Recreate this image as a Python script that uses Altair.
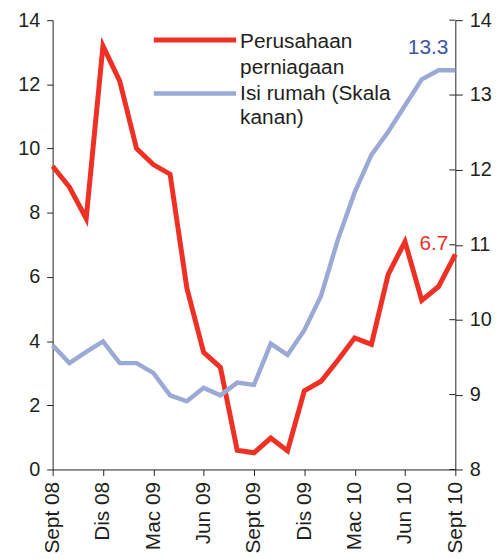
import altair as alt
import pandas as pd

# ---- data ----
tick_labels = ["Sept 08", "Dis 08", "Mac 09", "Jun 09", "Sept 09",
               "Dis 09", "Mac 10", "Jun 10", "Sept 10"]
month_index = list(range(25))  # Sept 08 .. Sept 10 (monthly)
business = [9.45, 8.8, 7.82, 13.2, 12.1, 10.0, 9.5, 9.2, 5.65, 3.65, 3.18, 0.6, 0.52,
            0.98, 0.58, 2.45, 2.75, 3.4, 4.1, 3.9, 6.08, 7.1, 5.27, 5.7, 6.7]
household = [9.66, 9.42, 9.57, 9.71, 9.42, 9.42, 9.29, 8.99, 8.91, 9.09, 8.99, 9.16, 9.13,
             9.68, 9.53, 9.86, 10.32, 11.07, 11.7, 12.2, 12.51, 12.86, 13.21, 13.33, 13.33]
left_ticks = [0, 2, 4, 6, 8, 10, 12, 14]
right_ticks = [8, 9, 10, 11, 12, 13, 14]
legend_business = "Perusahaan\nperniagaan"
legend_household = "Isi rumah (Skala\nkanan)"

RED = "#EE3124"
BLUE = "#9AA9D6"
BLUE_TXT = "#3A56A8"
INK = "#231F20"
FONT = "Liberation Sans"
FS = 21
FS_Y = 20

W, H = 406, 453

df = pd.DataFrame({"m": month_index, "biz": business, "hh": household})
last = df[df["m"] == month_index[-1]]

label_array = "[" + ",".join("'" + t + "'" for t in tick_labels) + "]"
x_enc = alt.X(
    "m:Q",
    scale=alt.Scale(domain=[month_index[0], month_index[-1]], nice=False, zero=False),
    axis=alt.Axis(values=month_index[::3], labelExpr=label_array + "[round(datum.value/3)]",
                  labelAngle=270, title=None, grid=False, tickSize=6, labelPadding=6,
                  labelFontSize=FS),
)

left_axis = alt.Axis(orient="left", values=left_ticks, title=None, grid=False,
                     tickSize=6, labelPadding=7)
right_axis = alt.Axis(orient="right", values=right_ticks, title=None, grid=False,
                      tickSize=7, labelPadding=7)

red_line = alt.Chart(df).mark_line(color=RED, strokeWidth=5, strokeJoin="miter").encode(
    x=x_enc,
    y=alt.Y("biz:Q", scale=alt.Scale(domain=[0, 14], nice=False), axis=left_axis),
)
red_label = alt.Chart(last).mark_text(color=RED, font=FONT, fontSize=FS, align="right",
                                      baseline="middle", dx=-7, dy=-10).encode(
    x=x_enc,
    y=alt.Y("biz:Q", scale=alt.Scale(domain=[0, 14], nice=False), axis=left_axis),
    text=alt.Text("biz:Q", format=".1f"),
)
red_layer = alt.layer(red_line, red_label)

y_right = alt.Y("hh:Q", scale=alt.Scale(domain=[8, 14], nice=False), axis=right_axis)
blue_line = alt.Chart(df).mark_line(color=BLUE, strokeWidth=4.5, strokeJoin="miter").encode(
    x=x_enc, y=y_right)
blue_label = alt.Chart(last).mark_text(color=BLUE_TXT, font=FONT, fontSize=FS, align="right",
                                       baseline="middle", dx=-7, dy=-22).encode(
    x=x_enc, y=y_right, text=alt.Text("hh:Q", format=".1f"))
inner_ticks = alt.Chart(pd.DataFrame({"hh": right_ticks})).mark_rule(
    color=INK, strokeWidth=1).encode(
    x=alt.value(W - 6), x2=alt.value(W), y=y_right)
blue_layer = alt.layer(blue_line, blue_label, inner_ticks)

one = pd.DataFrame({"a": [0]})
leg_red = alt.Chart(one).mark_rule(color=RED, strokeWidth=5).encode(
    x=alt.value(102), x2=alt.value(185), y=alt.value(20))
leg_blue = alt.Chart(one).mark_rule(color=BLUE, strokeWidth=4.5).encode(
    x=alt.value(102), x2=alt.value(185), y=alt.value(74))
leg_txt1 = alt.Chart(pd.DataFrame({"t": [legend_business]})).mark_text(
    font=FONT, fontSize=FS, color=INK, align="left", baseline="alphabetic",
    lineBreak="\n", lineHeight=26).encode(x=alt.value(189), y=alt.value(28), text="t:N")
leg_txt2 = alt.Chart(pd.DataFrame({"t": [legend_household]})).mark_text(
    font=FONT, fontSize=FS, color=INK, align="left", baseline="alphabetic",
    lineBreak="\n", lineHeight=25).encode(x=alt.value(189), y=alt.value(80), text="t:N")

chart = alt.layer(red_layer, blue_layer, leg_red, leg_blue, leg_txt1, leg_txt2).resolve_scale(
    y="independent"
).properties(
    width=W, height=H,
    autosize=alt.AutoSizeParams(type="none"),
    padding={"left": 45, "top": 10, "right": 40, "bottom": 88},
).configure_view(stroke=None).configure_axis(
    domainColor=INK, tickColor=INK, labelColor=INK, labelFont=FONT, labelFontSize=FS_Y,
    domainWidth=1, tickWidth=1,
)

chart.save("out.html", embed_options={"renderer": "svg", "actions": False})
